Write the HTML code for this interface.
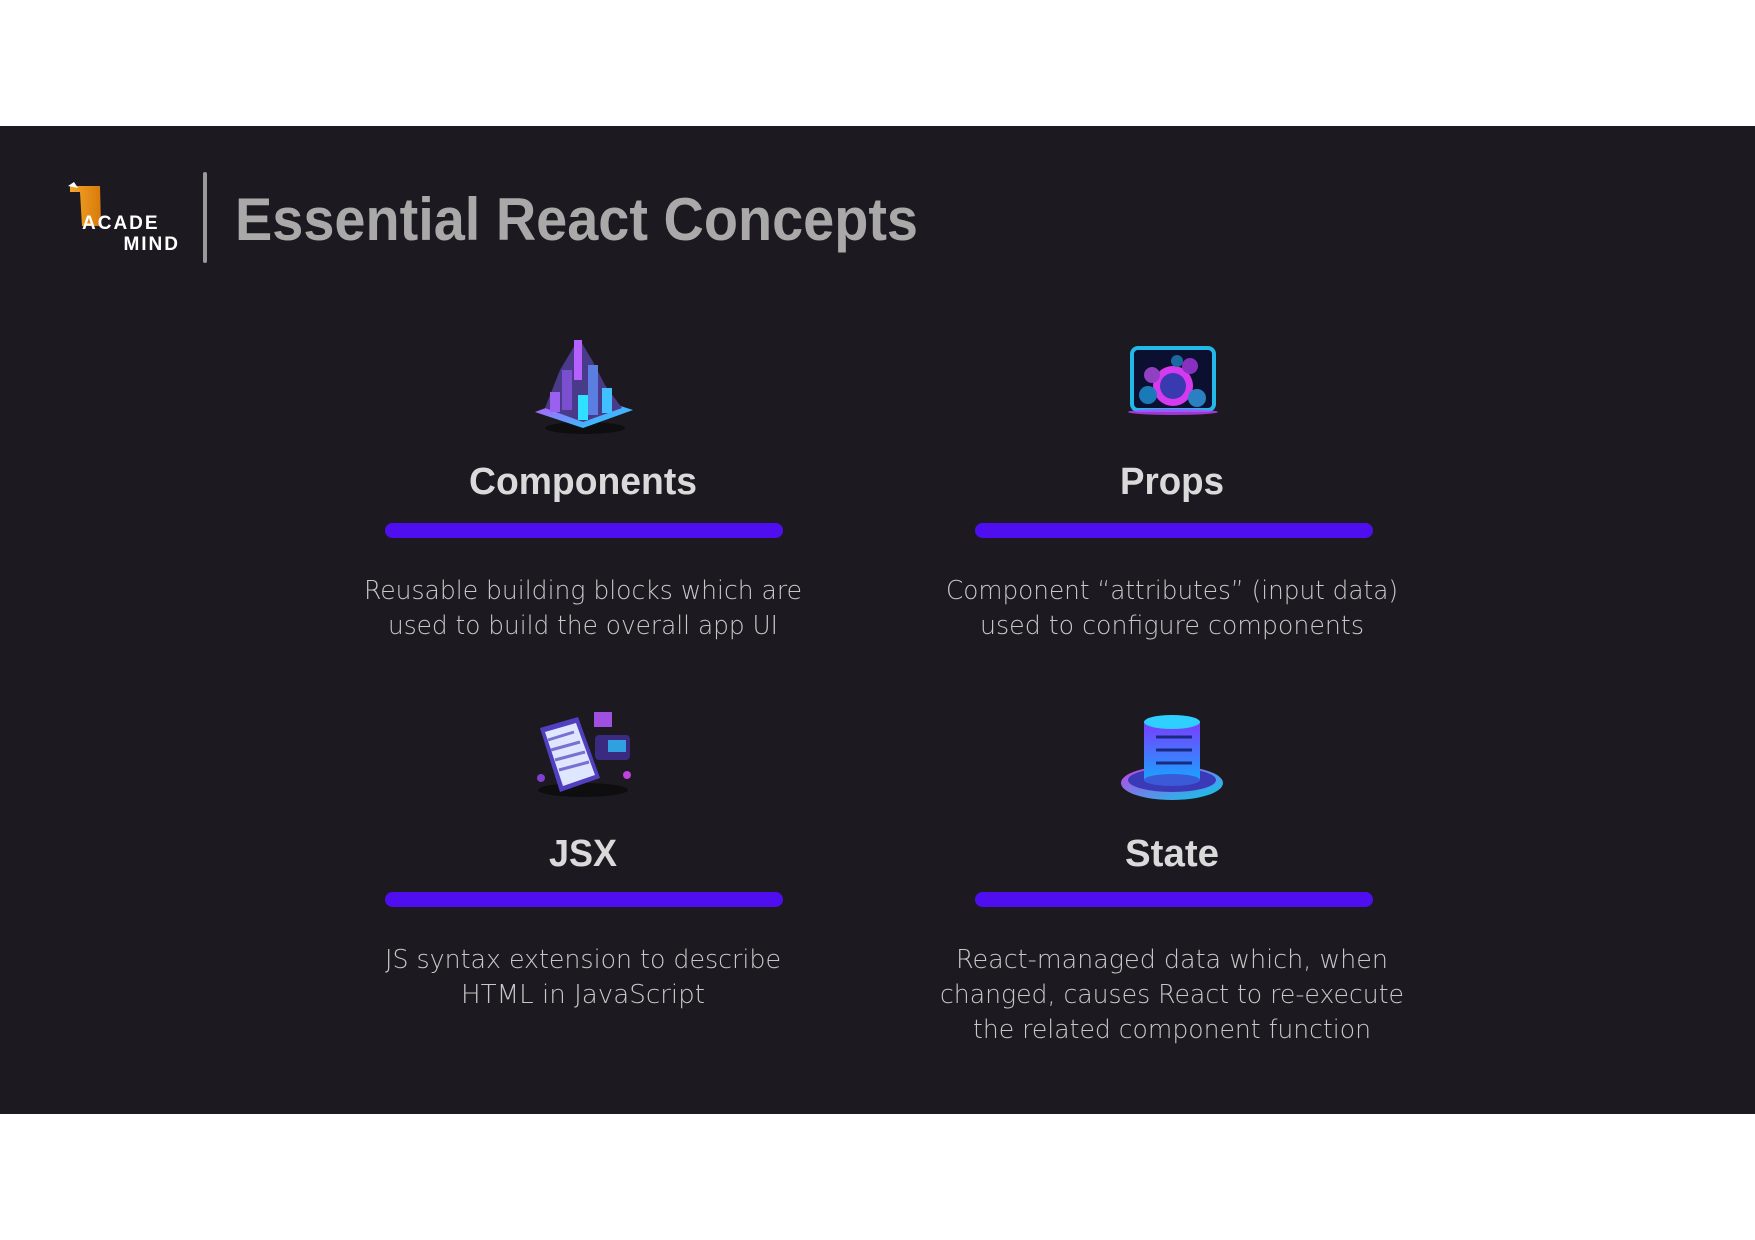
<!DOCTYPE html>
<html><head><meta charset="utf-8"><style>
html,body{margin:0;padding:0;background:#fff;}
svg{display:block;}
</style></head><body>
<svg width="1755" height="1240" viewBox="0 0 1755 1240" xmlns="http://www.w3.org/2000/svg">
<defs>
<linearGradient id="cy" x1="0" y1="0" x2="1" y2="1"><stop offset="0" stop-color="#e040fb"/><stop offset="1" stop-color="#00e5ff"/></linearGradient>
<linearGradient id="cy2" x1="0" y1="0" x2="0" y2="1"><stop offset="0" stop-color="#7b3cff"/><stop offset="1" stop-color="#1aa3ff"/></linearGradient>
<linearGradient id="or" x1="0" y1="0" x2="1" y2="0"><stop offset="0" stop-color="#f4a62a"/><stop offset="1" stop-color="#d97a0a"/></linearGradient>
</defs>
<rect x="0" y="0" width="1755" height="1240" fill="#fff"/>
<rect x="0" y="126" width="1755" height="988" fill="#1c1a20"/>

<!-- logo -->
<path d="M70 186 L100 186 L101 226 L82 226 L80 192 L70 192 Z" fill="url(#or)"/>
<path d="M68 186 L74 182 L78 188 Z" fill="#fff"/>
<text x="82" y="229" font-family="Liberation Sans, sans-serif" font-weight="bold" font-size="19" fill="#fff" letter-spacing="2">ACADE</text>
<text x="180" y="250" text-anchor="end" font-family="Liberation Sans, sans-serif" font-weight="bold" font-size="19" fill="#fff" letter-spacing="2">MIND</text>
<rect x="203" y="172" width="4" height="91" rx="2" fill="#9a9a9a"/>

<text x="235" y="240" font-family="Liberation Sans, sans-serif" font-weight="bold" font-size="60" fill="#a9a9a9" textLength="683" lengthAdjust="spacingAndGlyphs">Essential React Concepts</text>

<!-- Components icon -->
<g>
<ellipse cx="585" cy="428" rx="40" ry="6" fill="#000" opacity="0.5"/>
<path d="M535 412 L583 428 L633 410 L583 394 Z" fill="url(#cy)"/>
<path d="M545 408 L560 370 L575 345 L580 340 L592 360 L605 385 L622 408 L583 422 Z" fill="#4a3a8a"/>
<rect x="574" y="340" width="8" height="40" fill="#b560ff"/>
<rect x="562" y="370" width="10" height="40" fill="#7a50d0"/>
<rect x="588" y="365" width="10" height="50" fill="#5a7fe0"/>
<rect x="550" y="392" width="10" height="20" fill="#9a60f0"/>
<rect x="602" y="388" width="10" height="25" fill="#40c0ff"/>
<rect x="578" y="395" width="10" height="25" fill="#30e0ff"/>
</g>

<!-- Props icon -->
<g>
<rect x="1132" y="348" width="82" height="62" rx="6" fill="#0b1030" stroke="#22b8e8" stroke-width="4"/>
<ellipse cx="1173" cy="412" rx="45" ry="3" fill="#c040ff" opacity="0.8"/>
<circle cx="1173" cy="386" r="20" fill="#d63af0"/>
<circle cx="1173" cy="386" r="13" fill="#3a3ab0"/>
<circle cx="1148" cy="395" r="9" fill="#1a7ab8"/>
<circle cx="1152" cy="375" r="8" fill="#9040c0"/>
<circle cx="1197" cy="398" r="9" fill="#2a80c0"/>
<circle cx="1190" cy="366" r="8" fill="#8a30c0"/>
<circle cx="1177" cy="361" r="6" fill="#1a6aa0"/>
</g>

<!-- JSX icon -->
<g>
<ellipse cx="583" cy="790" rx="45" ry="7" fill="#000" opacity="0.5"/>
<path d="M540 728 L578 717 L600 778 L560 792 Z" fill="#5040c0"/>
<path d="M545 732 L576 723 L595 775 L563 786 Z" fill="#dfe6ff"/>
<path d="M548 740 L574 732 M551 750 L580 742 M555 760 L585 752 M559 770 L589 762" stroke="#7a70d0" stroke-width="3"/>
<rect x="595" y="735" width="35" height="25" rx="4" fill="#3a2a80"/>
<ellipse cx="603" cy="719" rx="9" ry="5" fill="#c060f0"/>
<rect x="594" y="712" width="18" height="15" fill="#a050e0"/>
<ellipse cx="617" cy="745" rx="9" ry="5" fill="#40d8ff"/>
<rect x="608" y="740" width="18" height="12" fill="#30a0e0"/>
<circle cx="541" cy="778" r="4" fill="#8040d0"/>
<circle cx="627" cy="775" r="4" fill="#c040e0"/>
</g>

<!-- State icon -->
<g>
<ellipse cx="1172" cy="783" rx="51" ry="17" fill="url(#cy)" opacity="0.9"/>
<ellipse cx="1172" cy="780" rx="44" ry="12" fill="#3a3ab8"/>
<rect x="1144" y="722" width="56" height="58" fill="url(#cy2)"/>
<ellipse cx="1172" cy="780" rx="28" ry="6" fill="#3a5ad8"/>
<ellipse cx="1172" cy="722" rx="28" ry="7" fill="#2fd0ff"/>
<path d="M1156 737 H1192 M1156 750 H1192 M1156 763 H1192" stroke="#1a2a80" stroke-width="3"/>
</g>

<g font-family="Liberation Sans, sans-serif" font-weight="bold" font-size="38" fill="#dadada" text-anchor="middle">
<text x="583" y="494" textLength="228" lengthAdjust="spacingAndGlyphs">Components</text>
<text x="1172" y="494" textLength="104" lengthAdjust="spacingAndGlyphs">Props</text>
<text x="583" y="866" textLength="68" lengthAdjust="spacingAndGlyphs">JSX</text>
<text x="1172" y="866" textLength="94" lengthAdjust="spacingAndGlyphs">State</text>
</g>

<g fill="#4f0ef0">
<rect x="385" y="523" width="398" height="15" rx="7.5"/>
<rect x="975" y="523" width="398" height="15" rx="7.5"/>
<rect x="385" y="892" width="398" height="15" rx="7.5"/>
<rect x="975" y="892" width="398" height="15" rx="7.5"/>
</g>

<g font-family="DejaVu Sans, Liberation Sans, sans-serif" font-weight="200" font-size="26" fill="#c8c8c8" text-anchor="middle">
<text x="583" y="599" textLength="438" lengthAdjust="spacingAndGlyphs">Reusable building blocks which are</text>
<text x="583" y="634" textLength="390" lengthAdjust="spacingAndGlyphs">used to build the overall app UI</text>
<text x="1172" y="599" textLength="452" lengthAdjust="spacingAndGlyphs">Component “attributes” (input data)</text>
<text x="1172" y="634" textLength="384" lengthAdjust="spacingAndGlyphs">used to configure components</text>
<text x="583" y="968" textLength="396" lengthAdjust="spacingAndGlyphs">JS syntax extension to describe</text>
<text x="583" y="1003" textLength="244" lengthAdjust="spacingAndGlyphs">HTML in JavaScript</text>
<text x="1172" y="968" textLength="432" lengthAdjust="spacingAndGlyphs">React-managed data which, when</text>
<text x="1172" y="1003" textLength="464" lengthAdjust="spacingAndGlyphs">changed, causes React to re-execute</text>
<text x="1172" y="1038" textLength="398" lengthAdjust="spacingAndGlyphs">the related component function</text>
</g>
</svg>
</body></html>
